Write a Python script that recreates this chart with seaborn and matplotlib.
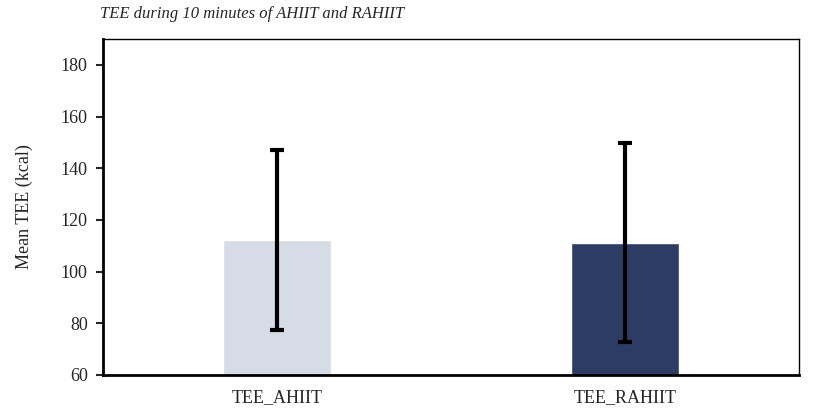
import pandas as pd
import matplotlib.pyplot as plt
import seaborn as sns

# Chart data
conditions = ['TEE_AHIIT', 'TEE_RAHIIT']
mean_tee = [112.3, 111.2]
sd_tee = [34.9, 38.5]
bar_colors = ['#d5dce5', '#2d3c63']

df = pd.DataFrame({'condition': conditions, 'mean': mean_tee, 'sd': sd_tee})

sns.set_style('white')
plt.rcParams['font.family'] = ['Liberation Serif', 'DejaVu Serif']

fig = plt.figure(figsize=(8.13, 4.08), dpi=100)
ax = fig.add_axes([0.1267, 0.081, 0.856, 0.823])

sns.barplot(data=df, x='condition', y='mean', hue='condition', palette=bar_colors,
            width=0.31, saturation=1, legend=False, ax=ax, errorbar=None)
ax.errorbar(range(len(conditions)), df['mean'], yerr=df['sd'], fmt='none',
            ecolor='black', elinewidth=3, capsize=5, capthick=3)

ax.set_ylim(60, 190)
ax.set_xlim(-0.5, 1.5)
ax.set_yticks(range(60, 181, 20))
ax.set_xlabel('')
ax.set_ylabel('Mean TEE (kcal)', fontsize=13, labelpad=20)
ax.tick_params(axis='y', labelsize=13, left=True, length=5, width=1.5, pad=6)
ax.tick_params(axis='x', labelsize=13, bottom=False, pad=7)

for side in ['left', 'bottom']:
    ax.spines[side].set_linewidth(2)
for side in ['top', 'right']:
    ax.spines[side].set_linewidth(1)
for s in ax.spines.values():
    s.set_color('black')

fig.text(0.123, 0.965, 'TEE during 10 minutes of AHIIT and RAHIIT', fontsize=12,
         style='italic', va='center', ha='left')

plt.savefig('out.png', dpi=100)
